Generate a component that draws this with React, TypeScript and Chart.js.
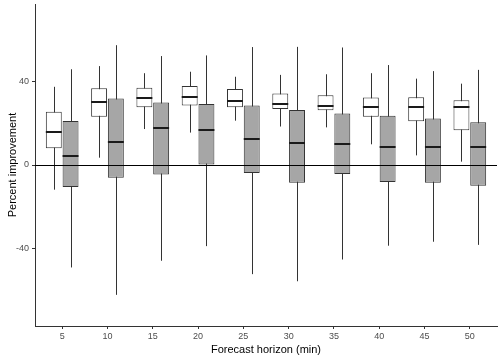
import React, { useEffect, useRef } from "react";
import { Chart, registerables } from "chart.js";

Chart.register(...registerables);

const horizons = ["5", "10", "15", "20", "25", "30", "35", "40", "45", "50"];

// series A (white boxes)
const aWhiskerLow = [-11.8, 3.5, 17.2, 15.5, 21.2, 18.4, 18.0, 9.9, 4.6, 1.6];
const aQ1 = [8.0, 23.1, 27.6, 28.4, 27.6, 26.8, 26.2, 23.1, 20.9, 16.6];
const aMedian = [16.0, 29.9, 31.9, 32.3, 30.8, 29.4, 28.4, 27.9, 27.8, 27.8];
const aQ3 = [25.5, 36.7, 37.0, 37.8, 36.4, 34.2, 33.4, 32.3, 32.4, 31.0];
const aWhiskerHigh = [37.4, 47.3, 43.9, 44.6, 42.2, 43.1, 43.4, 43.9, 41.3, 38.9];

// series B (grey boxes)
const bWhiskerLow = [-49.0, -62.1, -45.8, -38.8, -52.2, -55.6, -45.2, -38.6, -36.7, -38.2];
const bQ1 = [-10.5, -6.1, -4.5, 0.0, -3.8, -8.5, -4.3, -8.1, -8.5, -9.9];
const bMedian = [4.3, 10.9, 17.7, 16.6, 12.5, 10.4, 10.1, 8.8, 8.5, 8.6];
const bQ3 = [21.1, 31.8, 29.9, 29.2, 28.4, 26.3, 24.6, 23.6, 22.2, 20.4];
const bWhiskerHigh = [45.8, 57.3, 52.1, 52.4, 56.4, 56.5, 56.2, 47.8, 44.9, 45.5];

const yTicks = [-40, 0, 40];

const stats = [
  { lo: aWhiskerLow, med: aMedian, hi: aWhiskerHigh },
  { lo: bWhiskerLow, med: bMedian, hi: bWhiskerHigh },
];

const boxPlugin = {
  id: "boxParts",
  beforeDatasetsDraw(chart: any) {
    const ctx = chart.ctx;
    const y = chart.scales.y;
    ctx.save();
    ctx.strokeStyle = "#333333";
    ctx.lineWidth = 1;
    stats.forEach((s, di) => {
      const meta = chart.getDatasetMeta(di);
      meta.data.forEach((bar: any, i: number) => {
        const x = Math.round(bar.x) + 0.5;
        ctx.beginPath();
        ctx.moveTo(x, y.getPixelForValue(s.lo[i]));
        ctx.lineTo(x, y.getPixelForValue(s.hi[i]));
        ctx.stroke();
      });
    });
    ctx.restore();
  },
  afterDatasetsDraw(chart: any) {
    const ctx = chart.ctx;
    const y = chart.scales.y;
    const area = chart.chartArea;
    ctx.save();
    const y0 = Math.round(y.getPixelForValue(0)) + 0.5;
    ctx.strokeStyle = "#000000";
    ctx.lineWidth = 1;
    ctx.beginPath();
    ctx.moveTo(area.left, y0);
    ctx.lineTo(area.right, y0);
    ctx.stroke();
    ctx.lineWidth = 2;
    ctx.strokeStyle = "#1a1a1a";
    stats.forEach((s, di) => {
      const meta = chart.getDatasetMeta(di);
      meta.data.forEach((bar: any, i: number) => {
        const w = bar.width;
        const py = Math.round(y.getPixelForValue(s.med[i]));
        ctx.beginPath();
        ctx.moveTo(bar.x - w / 2, py);
        ctx.lineTo(bar.x + w / 2, py);
        ctx.stroke();
      });
    });
    ctx.restore();
  },
};

export default function App() {
  const ref = useRef<HTMLCanvasElement>(null);
  useEffect(() => {
    if (!ref.current) return;
    const chart = new Chart(ref.current, {
      type: "bar",
      data: {
        datasets: [
          {
            label: "A",
            data: horizons.map((_, i) => ({ x: i + 1, y: [aQ1[i], aQ3[i]] })) as any,
            backgroundColor: "#ffffff",
            borderColor: "#333333",
            borderWidth: 1,
            borderSkipped: false,
          },
          {
            label: "B",
            data: horizons.map((_, i) => ({ x: i + 1, y: [bQ1[i], bQ3[i]] })) as any,
            backgroundColor: "#a6a6a6",
            borderColor: "#333333",
            borderWidth: 1,
            borderSkipped: false,
          },
        ],
      },
      options: {
        animation: false,
        responsive: false,
        maintainAspectRatio: false,
        devicePixelRatio: 1,
        categoryPercentage: 0.74,
        barPercentage: 0.95,
        layout: { padding: { top: 4, right: 3, left: 0, bottom: 0 } },
        plugins: { legend: { display: false }, tooltip: { enabled: false } },
        scales: {
          x: {
            type: "linear",
            offset: false,
            min: 0.4,
            max: 10.6,
            afterBuildTicks: (axis: any) => {
              axis.ticks = horizons.map((_, i) => ({ value: i + 1 }));
            },
            afterFit: (axis: any) => {
              axis.height = 31;
            },
            ticks: {
              callback: (v: any) => horizons[Number(v) - 1],
              color: "#4d4d4d",
              font: { family: "Liberation Sans", size: 9 },
              padding: 2,
              maxRotation: 0,
              autoSkip: false,
            },
            grid: { offset: false, drawOnChartArea: false, tickLength: 3, tickColor: "#333333" },
            border: { display: true, color: "#333333", width: 1 },
            title: {
              display: true,
              text: "Forecast horizon (min)",
              color: "#000000",
              font: { family: "Liberation Sans", size: 11 },
              padding: { top: 0, bottom: 0 },
            },
          },
          y: {
            min: -77,
            max: 77,
            afterBuildTicks: (axis: any) => {
              axis.ticks = yTicks.map((v) => ({ value: v }));
            },
            afterFit: (axis: any) => {
              axis.width = 35;
              axis.paddingTop = 0;
              axis.paddingBottom = 0;
            },
            ticks: {
              color: "#4d4d4d",
              font: { family: "Liberation Sans", size: 9 },
              padding: 3,
            },
            grid: { drawOnChartArea: false, tickLength: 3, tickColor: "#333333" },
            border: { display: true, color: "#333333", width: 1 },
            title: {
              display: true,
              text: "Percent improvement",
              color: "#000000",
              font: { family: "Liberation Sans", size: 11 },
              padding: { top: 6, bottom: 0 },
            },
          },
        },
      },
      plugins: [boxPlugin],
    });
    return () => chart.destroy();
  }, []);
  return (
    <div style={{ position: "fixed", left: 0, top: 0, width: 500, height: 357, background: "#fff" }}>
      <canvas ref={ref} width={500} height={357} style={{ width: 500, height: 357 }} />
    </div>
  );
}
